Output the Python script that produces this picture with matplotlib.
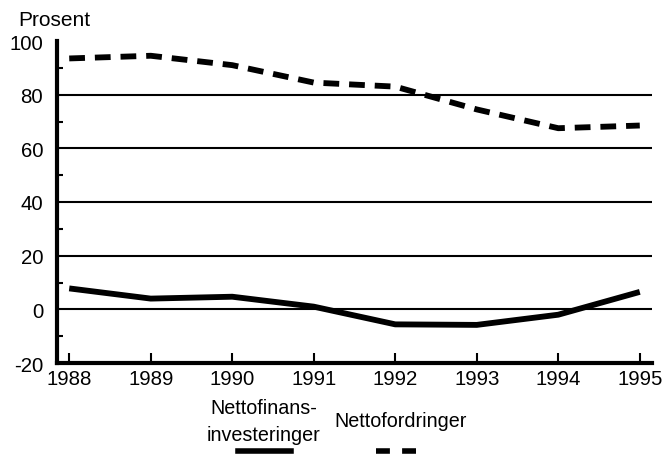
import matplotlib.pyplot as plt
from matplotlib.lines import Line2D

years = [1988, 1989, 1990, 1991, 1992, 1993, 1994, 1995]
nettofordringer = [93.5, 94.5, 91.0, 84.5, 83.0, 74.5, 67.5, 68.5]
nettofinans = [7.8, 4.0, 4.7, 1.0, -5.6, -5.8, -2.0, 6.5]
yticks = [-20, 0, 20, 40, 60, 80, 100]
grid_levels = [0, 20, 40, 60, 80]

plt.rcParams['font.family'] = ['Liberation Sans', 'DejaVu Sans']
plt.rcParams['axes.unicode_minus'] = False

fig = plt.figure(figsize=(6.63, 4.56), dpi=100)
ax = fig.add_axes([57/663, 92/456, 595/663, 322/456])

for g in grid_levels:
  ax.axhline(g, color='black', lw=1.5, zorder=1)

ax.plot(years, nettofinans, color='black', lw=4.2, solid_capstyle='butt', zorder=3)
ax.plot(years, nettofordringer, color='black', lw=4.2, dashes=(2.7, 1.7), zorder=3)

ax.set_xlim(1987.85, 1995.15)
ax.set_ylim(-20, 100)
ax.set_xticks(years)
ax.set_yticks(yticks)
ax.set_yticks([-10, 10, 30, 50, 70, 90], minor=True)
ax.tick_params(axis='both', which='major', labelsize=14.7, direction='in', width=1.5, length=7, colors='black')
ax.tick_params(axis='y', which='major', length=0, pad=10)
ax.tick_params(axis='y', which='minor', direction='in', length=4, width=1.5)
ax.tick_params(axis='x', pad=4)

for s in ['top', 'right']:
  ax.spines[s].set_visible(False)
for s in ['left', 'bottom']:
  ax.spines[s].set_linewidth(3)

fig.text(18/663, 1 - 20/456, 'Prosent', fontsize=15, va='center', ha='left')

# legend below the plot
fig.text(264/663, 1 - 422/456, 'Nettofinans-\ninvesteringer', fontsize=14.2, ha='center', va='center', linespacing=1.55)
fig.text(401/663, 1 - 422/456, 'Nettofordringer', fontsize=14.2, ha='center', va='center')
fig.add_artist(Line2D([238/663, 291/663], [1 - 452/456] * 2, color='black', lw=4, transform=fig.transFigure))
fig.add_artist(Line2D([376/663, 424/663], [1 - 452/456] * 2, color='black', lw=4, dashes=(2.5, 2.2), transform=fig.transFigure))

plt.savefig('out.png', dpi=100)
